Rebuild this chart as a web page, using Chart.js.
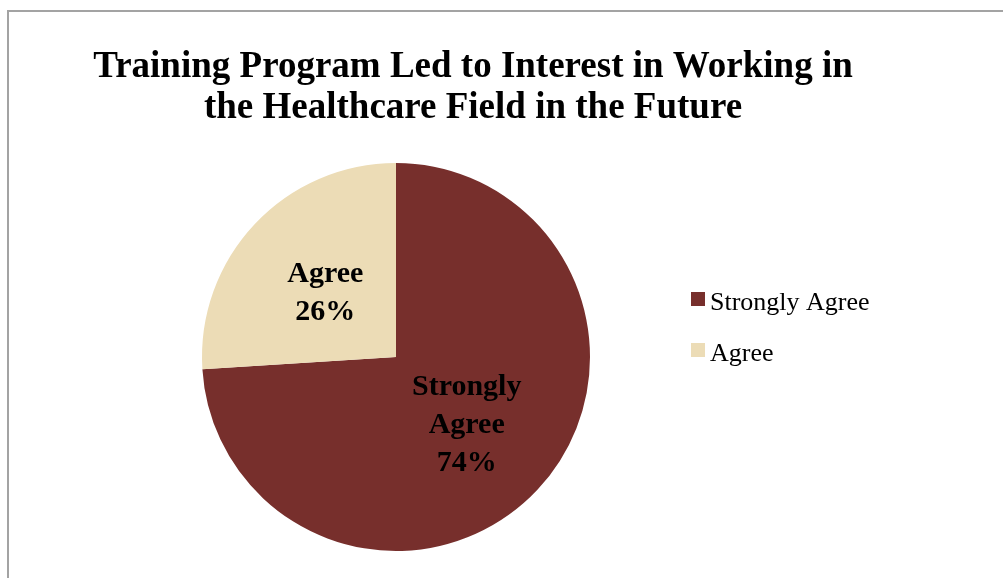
<!DOCTYPE html>
<html>
<head>
<meta charset="utf-8">
<script src="https://cdn.jsdelivr.net/npm/chart.js@4/dist/chart.umd.min.js"></script>
<style>
    html, body { margin: 0; padding: 0; background: #fff; }
    #wrap { position: relative; width: 1003px; height: 578px; overflow: hidden; }
    #frame {
        position: absolute; left: 7px; top: 10px; width: 1100px; height: 700px;
        border-left: 2px solid #a3a3a3; border-top: 2px solid #a3a3a3;
    }
    #chart { position: absolute; left: 0; top: 0; }
</style>
</head>
<body>
<div id="wrap">
    <div id="frame"></div>
    <canvas id="chart" width="1003" height="578"></canvas>
</div>
<script>
// data
const categories = ['Strongly Agree', 'Agree']
const shares = [74, 26]
const sliceLabels = [['Strongly', 'Agree', '74%'], ['Agree', '26%']]
const titleLines = [
    'Training Program Led to Interest in Working in',
    'the Healthcare Field in the Future'
]
const colors = ['#772F2C', '#ECDCB6']

// judul, label di irisan, legend
const textPlugin = {
    id: 'textPlugin',
    afterDraw(chart) {
        const ctx = chart.ctx
        ctx.save()
        ctx.fillStyle = '#000'
        ctx.textAlign = 'center'
        ctx.textBaseline = 'alphabetic'

        ctx.font = 'bold 37px "Liberation Serif", "Times New Roman", serif'
        titleLines.forEach((t, i) => ctx.fillText(t, 473, 77 + i * 41))

        // label di tengah irisan
        ctx.font = 'bold 30px "Liberation Serif", "Times New Roman", serif'
        const meta = chart.getDatasetMeta(0)
        meta.data.forEach((arc, i) => {
            const p = arc.getProps(['x', 'y', 'startAngle', 'endAngle', 'outerRadius'], true)
            const mid = (p.startAngle + p.endAngle) / 2
            const cx = p.x + Math.cos(mid) * p.outerRadius * 0.5
            const cy = p.y + Math.sin(mid) * p.outerRadius * 0.5
            const lines = sliceLabels[i]
            const lh = 38
            const top = cy - ((lines.length - 1) * lh) / 2
            lines.forEach((l, j) => ctx.fillText(l, cx, top + j * lh + 10))
        })

        // legend
        ctx.textAlign = 'left'
        ctx.font = '26px "Liberation Serif", "Times New Roman", serif'
        categories.forEach((c, i) => {
            const y = 292 + i * 51
            ctx.fillStyle = colors[i]
            ctx.fillRect(691, y, 14, 14)
            ctx.fillStyle = '#000'
            ctx.fillText(c, 710, y + 18)
        })
        ctx.restore()
    }
}

new Chart(document.getElementById('chart'), {
    type: 'pie',
    data: {
        labels: categories,
        datasets: [
            {
                data: shares,
                backgroundColor: colors,
                borderWidth: 0
            }
        ]
    },
    options: {
        responsive: false,
        animation: false,
        layout: {
            padding: { top: 163, left: 202, right: 413, bottom: 27 }
        },
        plugins: {
            legend: { display: false },
            title: { display: false },
            tooltip: { enabled: false }
        }
    },
    plugins: [textPlugin]
})
</script>
</body>
</html>
